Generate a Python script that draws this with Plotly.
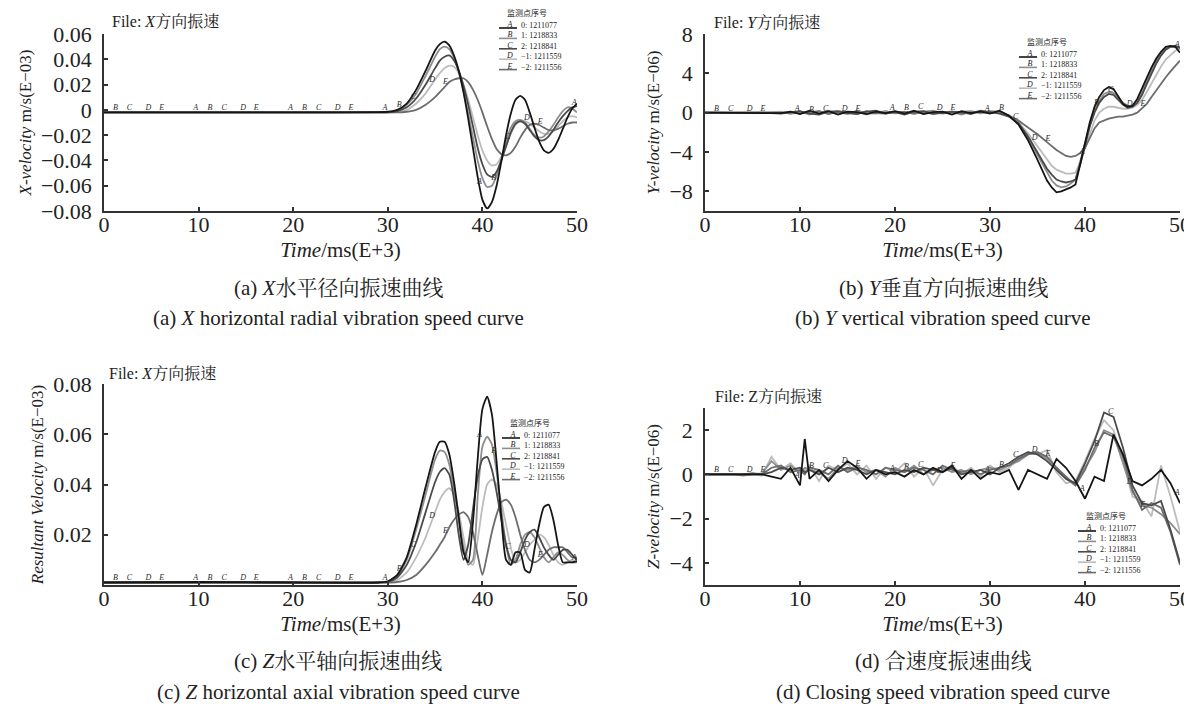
import numpy as np
import plotly.graph_objects as go

W, H = 1192, 706

# ---------------- data ----------------
series_letters = ["A", "B", "C", "D", "E"]
series_ids = ["0: 1211077", "1: 1218833", "2: 1218841", "\u22121: 1211559", "\u22122: 1211556"]

# (a) X velocity, m/s (E-03)
t_a = [0, 10, 20, 29, 30, 31, 32, 33, 34, 35, 35.5, 36, 36.5, 37, 37.5, 38, 38.5, 39, 39.5, 40,
       40.5, 41, 41.5, 42, 42.5, 43, 43.5, 44, 44.5, 45, 45.5, 46, 46.5, 47, 47.5, 48, 48.5, 49, 49.5, 50]
xa_A = [-0.002, -0.002, -0.002, -0.0018, -0.0015, 0.000, 0.005, 0.016, 0.031, 0.047,
        0.052, 0.054, 0.051, 0.043, 0.031, 0.014, -0.007, -0.030, -0.053, -0.071, -0.078, -0.073, -0.060,
        -0.041, -0.020, -0.003, 0.008, 0.011, 0.008, -0.002, -0.014, -0.025, -0.032, -0.034, -0.031,
        -0.024, -0.015, -0.006, 0.001, 0.005]
xa_B = [-0.002, -0.002, -0.002, -0.002, -0.0018, -0.0005, 0.004, 0.013, 0.027, 0.042,
        0.048, 0.050, 0.048, 0.041, 0.030, 0.015, -0.003, -0.022, -0.040, -0.054, -0.061, -0.060, -0.052,
        -0.039, -0.025, -0.014, -0.009, -0.008, -0.010, -0.015, -0.020, -0.022, -0.021, -0.017, -0.012,
        -0.006, -0.001, 0.002, 0.001, -0.002]
xa_C = [-0.002, -0.002, -0.002, -0.002, -0.002, -0.001, 0.002, 0.009, 0.020, 0.033,
        0.039, 0.042, 0.043, 0.039, 0.031, 0.019, 0.004, -0.013, -0.030, -0.043, -0.051, -0.053, -0.049,
        -0.040, -0.029, -0.018, -0.011, -0.009, -0.011, -0.016, -0.021, -0.024, -0.024, -0.021, -0.016,
        -0.010, -0.005, -0.001, 0.002, 0.003]
xa_D = [-0.002, -0.002, -0.002, -0.002, -0.002, -0.0015, 0.000, 0.005, 0.013, 0.024,
        0.029, 0.033, 0.035, 0.034, 0.029, 0.020, 0.008, -0.006, -0.020, -0.032, -0.040, -0.044, -0.043,
        -0.037, -0.028, -0.019, -0.012, -0.009, -0.009, -0.011, -0.014, -0.017, -0.019, -0.019, -0.017,
        -0.013, -0.009, -0.006, -0.005, -0.006]
xa_E = [-0.002, -0.002, -0.002, -0.002, -0.002, -0.002, -0.0015, 0.000, 0.004, 0.010,
        0.014, 0.018, 0.022, 0.024, 0.025, 0.025, 0.022, 0.016, 0.008, -0.002, -0.013, -0.023, -0.031,
        -0.035, -0.036, -0.034, -0.029, -0.022, -0.016, -0.012, -0.011, -0.012, -0.014, -0.016, -0.016,
        -0.015, -0.013, -0.011, -0.010, -0.010]

# (b) Y velocity, m/s (E-06)
t_b = [0, 2, 4, 6, 8, 9, 10, 11, 12, 13, 14, 15, 16, 17, 18, 19, 20, 21, 22, 23, 24, 25, 26, 27, 28,
       29, 30, 31, 32, 33, 34, 35,
       36, 36.5, 37, 37.5, 38, 38.5, 39, 39.5, 40, 40.5, 41, 41.5, 42, 42.5, 43, 43.5, 44, 44.5, 45,
       45.5, 46, 46.5, 47, 47.5, 48, 48.5, 49, 49.5, 50]
yb_A = [0, 0, 0, 0, -0.05, 0.1, -0.15, 0.2, -0.1, 0.15, -0.2, 0.1, 0.05, -0.15, 0.1, -0.05, 0.15, -0.1,
        0.2, -0.15, 0.05, 0.1, -0.2, 0.15, -0.05, 0.1, -0.1, 0.2, -0.3, -1.2, -2.8, -4.8,
        -6.9, -7.6, -8.1, -8.0, -7.8, -7.6, -7.3, -5.2, -3.2, -1.0, 0.6, 1.6, 2.3, 2.6, 2.4, 1.6, 0.9,
        0.6, 0.7, 1.4, 2.5, 3.6, 4.6, 5.5, 6.2, 6.7, 6.8, 6.7, 6.1]
yb_B = [0, 0, 0, 0, 0.05, -0.1, 0.1, -0.2, 0.15, -0.1, 0.05, -0.15, 0.2, -0.05, -0.1, 0.15, -0.05, 0.1,
        -0.15, 0.1, 0.2, -0.1, 0.05, -0.2, 0.1, -0.05, 0.15, 0.1, -0.3, -1.0, -2.5, -4.3,
        -6.1, -6.9, -7.4, -7.6, -7.5, -7.2, -6.8, -5.0, -3.3, -1.3, 0.2, 1.2, 1.9, 2.1, 2.0, 1.5, 1.0,
        0.7, 0.7, 1.2, 2.1, 3.2, 4.3, 5.3, 6.0, 6.5, 6.7, 6.7, 6.5]
yb_C = [0, 0, 0, 0, -0.1, 0.05, 0.15, -0.1, -0.2, 0.1, 0.15, -0.05, -0.15, 0.1, 0.2, -0.1, 0.05, -0.2,
        0.1, 0.15, -0.1, -0.05, 0.1, 0.05, -0.15, 0.2, 0.05, -0.1, -0.4, -1.1, -2.4, -4.0,
        -5.7, -6.3, -6.8, -7.0, -7.1, -7.0, -6.8, -5.3, -3.4, -1.4, 0.0, 1.0, 1.6, 1.9, 1.8, 1.3, 0.8,
        0.5, 0.6, 1.0, 1.8, 2.9, 4.0, 5.0, 5.8, 6.4, 6.7, 6.8, 6.6]
yb_D = [0, 0, 0, 0, 0.1, -0.15, 0.05, 0.1, -0.1, 0.2, -0.15, 0.05, 0.1, -0.2, 0.05, 0.15, -0.1, 0.05,
        0.1, -0.1, 0.15, 0.05, -0.15, 0.1, 0.2, -0.1, 0.1, 0.05, -0.4, -1.0, -2.1, -3.4,
        -4.8, -5.4, -5.8, -6.0, -6.2, -6.2, -6.1, -5.0, -3.6, -2.0, -0.8, 0.0, 0.4, 0.6, 0.6, 0.5, 0.4,
        0.4, 0.5, 0.8, 1.3, 2.1, 3.0, 3.9, 4.7, 5.4, 5.9, 6.3, 6.5]
yb_E = [0, 0, 0, 0, -0.05, 0.1, -0.1, 0.05, 0.15, -0.15, 0.1, 0.05, -0.1, 0.15, -0.05, -0.1, 0.1, 0.05,
        -0.05, 0.1, -0.15, 0.05, 0.1, -0.1, 0.05, 0.15, -0.05, 0.1, -0.3, -0.8, -1.5, -2.2,
        -3.0, -3.4, -3.8, -4.1, -4.4, -4.5, -4.4, -4.1, -3.6, -2.6, -1.6, -1.0, -0.8, -0.6, -0.5, -0.4,
        -0.4, -0.3, -0.2, 0.0, 0.4, 0.9, 1.6, 2.3, 2.9, 3.6, 4.2, 4.8, 5.3]

# (c) resultant velocity, m/s (E-03)
t_c = [0, 10, 20, 29, 30, 31, 32, 33, 34, 35, 35.5, 36, 36.5, 37, 37.5, 38, 38.5, 39, 39.5, 40,
       40.5, 41, 41.5, 42, 42.5, 43, 43.5, 44, 44.5, 45, 45.5, 46, 46.5, 47, 47.5, 48, 48.5, 49, 49.5, 50]
rc_A = [0.001, 0.0012, 0.001, 0.001, 0.0015, 0.004, 0.011, 0.024, 0.039, 0.053,
        0.057, 0.057, 0.052, 0.041, 0.027, 0.013, 0.009, 0.025, 0.050, 0.070, 0.075, 0.068, 0.049,
        0.027, 0.010, 0.008, 0.013, 0.013, 0.006, 0.005, 0.014, 0.024, 0.031, 0.032, 0.026, 0.016,
        0.009, 0.009, 0.009, 0.0095]
rc_B = [0.001, 0.001, 0.001, 0.001, 0.0013, 0.0035, 0.010, 0.022, 0.036, 0.050,
        0.0535, 0.053, 0.048, 0.038, 0.026, 0.015, 0.008, 0.010, 0.035, 0.055, 0.059, 0.056, 0.045,
        0.030, 0.016, 0.008, 0.010, 0.016, 0.020, 0.021, 0.019, 0.015, 0.011, 0.009, 0.011, 0.013,
        0.012, 0.010, 0.009, 0.009]
rc_C = [0.001, 0.001, 0.001, 0.001, 0.0012, 0.003, 0.008, 0.017, 0.029, 0.041,
        0.045, 0.0465, 0.044, 0.034, 0.020, 0.010, 0.016, 0.030, 0.043, 0.050, 0.051, 0.046, 0.037,
        0.026, 0.016, 0.010, 0.009, 0.013, 0.018, 0.021, 0.022, 0.019, 0.015, 0.012, 0.010, 0.012,
        0.014, 0.014, 0.012, 0.010]
rc_D = [0.001, 0.001, 0.001, 0.001, 0.0012, 0.002, 0.005, 0.011, 0.019, 0.029,
        0.034, 0.037, 0.0385, 0.036, 0.029, 0.019, 0.010, 0.008, 0.018, 0.031, 0.040, 0.042, 0.040,
        0.033, 0.024, 0.015, 0.009, 0.010, 0.013, 0.016, 0.018, 0.020, 0.019, 0.016, 0.012, 0.009,
        0.008, 0.009, 0.010, 0.009]
rc_E = [0.001, 0.001, 0.001, 0.001, 0.001, 0.0012, 0.002, 0.004, 0.008, 0.013,
        0.016, 0.019, 0.023, 0.026, 0.028, 0.029, 0.027, 0.021, 0.012, 0.004, 0.012, 0.021, 0.028,
        0.033, 0.034, 0.032, 0.027, 0.020, 0.014, 0.010, 0.009, 0.010, 0.012, 0.014, 0.015, 0.015,
        0.015, 0.013, 0.011, 0.011]

# (d) Z velocity, m/s (E-06)
t_d = [0, 1, 2, 3, 4, 5, 6, 7, 8, 9, 10, 10.5, 11, 12, 13, 14, 15, 16, 17, 18, 19, 20, 21, 22, 23,
       24, 25, 26, 27, 28, 29, 30, 31, 32, 33, 34, 35, 36, 37, 38, 39, 40, 41, 42, 43, 44, 45, 46,
       47, 48, 49, 50]
zd_A = [0, 0, 0, 0, 0, 0, 0, -0.1, -0.2, 0.3, -0.5, 1.6, -0.2, 0.2, -0.3, 0.2, 0.6, 0.3, -0.2, 0.2,
        0.0, 0.1, -0.1, 0.2, 0.0, 0.3, 0.1, 0.4, -0.2, 0.2, -0.2, 0.1, 0.0, 0.2, -0.7, 0.2, 0.0, -0.2,
        0.7, 0.3, -0.3, -1.1, -0.1, -0.3, 1.8, 0.9, -0.3, -0.5, -0.2, 0.2, -0.4, -1.3]
zd_B = [0, 0, 0, 0, -0.05, 0, 0.05, 0.6, 0.2, 0.4, 0.1, 0.3, 0.2, 0.1, -0.2, 0.3, 0.2, 0.4, 0.1, 0.2,
        -0.1, 0.3, 0.1, 0.4, 0.0, 0.2, 0.3, 0.1, 0.2, 0.0, 0.2, 0.3, 0.2, 0.4, 0.6, 0.9, 1.0, 0.7, 0.3,
        -0.2, -0.5, 0.3, 1.0, 2.0, 1.8, 0.5, -0.8, -1.4, -1.5, -1.8, -2.2, -2.7]
zd_C = [0, 0, 0, 0, 0, 0, 0, 0.1, 0.3, 0.2, 0.3, 0.1, 0.2, 0.0, 0.3, 0.1, 0.3, 0.2, 0.0, 0.2, 0.1, 0.0,
        0.2, 0.1, 0.3, 0.2, 0.1, 0.3, 0.0, 0.1, 0.2, 0.0, 0.3, 0.5, 0.8, 1.0, 0.9, 0.6, 0.2, -0.2, -0.4,
        0.5, 1.5, 2.8, 2.6, 1.2, -0.5, -1.3, -1.4, -1.2, -2.5, -4.0]
zd_D = [0, 0, 0, 0, 0, 0, -0.05, 0.8, 0.2, 0.5, 0.0, 0.2, 0.4, -0.3, 0.4, 0.2, 0.5, 0.0, 0.4, -0.2, 0.3,
        0.1, 0.5, -0.1, 0.3, -0.5, 0.2, 0.4, 0.0, 0.3, -0.1, 0.4, 0.1, 0.3, 0.7, 1.0, 0.9, 1.1, 0.1, -0.4,
        -0.3, 0.6, 1.6, 2.45, 2.0, 0.6, -1.0, -1.2, -1.9, 0.4, -1.0, -2.6]
zd_E = [0, 0, 0, 0, 0, 0.05, 0, 0.3, 0.4, 0.1, 0.2, 0.0, 0.3, 0.2, 0.0, 0.4, 0.1, 0.3, 0.2, 0.0, 0.3,
        0.2, 0.1, 0.3, 0.2, 0.0, 0.4, 0.2, 0.1, 0.2, 0.0, 0.2, 0.3, 0.4, 0.7, 0.9, 1.0, 0.8, 0.3, -0.1,
        -0.5, 0.2, 1.2, 1.9, 1.7, 0.8, -0.7, -1.6, -1.3, -1.5, -2.6, -4.1]

# ---------------- style ----------------
SERIF = "Liberation Serif, 'Noto Serif CJK SC', 'Noto Sans CJK SC', serif"
CJK = "'Noto Sans CJK SC', 'Liberation Serif', serif"
colors = ["#151515", "#8e8e8e", "#4a4a4a", "#bcbcbc", "#6c6c6c"]
label_offsets = [9.7, 1.2, 2.7, 4.7, 6.1]
LEG_FONT = 8
LEG_STEP = 1.3 * LEG_FONT  # plotly line spacing for multi-line annotations


def px(x):
    return x / W


def py(y):
    return 1 - y / H


panels = [
    dict(t=t_a, ys=[xa_A, xa_B, xa_C, xa_D, xa_E], shape="spline", ax="", yr=[-0.08, 0.06], dt=0.02,
         tv=None, dx=[96, 569], dy=[203, 26], ytitle="<i>X-velocity</i> m/s(E\u221203)",
         file="File: <i>X</i>方向振速", fpos=(102, 13), leg=(491, 17),
         cap1="(a) <i>X</i>水平径向振速曲线", cap2="(a) <i>X</i> horizontal radial vibration speed curve",
         cx=330, cy=(280, 310)),
    dict(t=t_b, ys=[yb_A, yb_B, yb_C, yb_D, yb_E], shape="linear", ax="2", yr=[-10, 8], dt=4,
         tv=None, dx=[697, 1172], dy=[203, 26], ytitle="<i>Y-velocity</i> m/s(E\u221206)",
         file="File: <i>Y</i>方向振速", fpos=(704, 15), leg=(1011, 46),
         cap1="(b) <i>Y</i>垂直方向振速曲线", cap2="(b) <i>Y</i> vertical vibration speed curve",
         cx=935, cy=(280, 310)),
    dict(t=t_c, ys=[rc_A, rc_B, rc_C, rc_D, rc_E], shape="spline", ax="3", yr=[0, 0.08], dt=0.02,
         tv=[0.02, 0.04, 0.06, 0.08], dx=[96, 569], dy=[577, 376],
         ytitle="<i>Resultant Velocity</i> m/s(E\u221203)",
         file="File: <i>X</i>方向振速", fpos=(99, 365), leg=(494, 427),
         cap1="(c) <i>Z</i>水平轴向振速曲线", cap2="(c) <i>Z</i> horizontal axial vibration speed curve",
         cx=330, cy=(653, 684)),
    dict(t=t_d, ys=[zd_A, zd_B, zd_C, zd_D, zd_E], shape="linear", ax="4", yr=[-5, 3], dt=2,
         tv=None, dx=[697, 1172], dy=[577, 400], ytitle="<i>Z-velocity</i> m/s(E\u221206)",
         file="File: Z方向振速", fpos=(705, 388), leg=(1070, 520),
         cap1="(d) 合速度振速曲线", cap2="(d) Closing speed vibration speed curve",
         cx=935, cy=(653, 684)),
]

fig = go.Figure()
annotations = []
shapes = []

for p in panels:
    xa, ya = "x" + p["ax"], "y" + p["ax"]
    t = np.array(p["t"], dtype=float)
    # draw lighter series first so the darkest lies on top
    for i in [3, 1, 4, 2, 0]:
        v = np.array(p["ys"][i], dtype=float)
        line = dict(color=colors[i], width=1.8, shape=p["shape"])
        if p["shape"] == "spline":
            line["smoothing"] = 0.6
        fig.add_trace(go.Scatter(x=t, y=v, mode="lines", line=line, xaxis=xa, yaxis=ya,
                                 name=f"{series_letters[i]}  {series_ids[i]}", showlegend=False,
                                 hoverinfo="x+y+name"))
    # small letters riding on the curves
    for i in range(5):
        v = np.array(p["ys"][i], dtype=float)
        lt = [label_offsets[i] + 10 * m for m in range(5) if label_offsets[i] + 10 * m <= 50]
        lv = np.interp(lt, t, v)
        fig.add_trace(go.Scatter(x=lt, y=lv, mode="text", text=["<i>" + series_letters[i] + "</i>"] * len(lt),
                                 textposition="top center",
                                 textfont=dict(family=SERIF, size=8, color="#2a2a2a"),
                                 xaxis=xa, yaxis=ya, showlegend=False, hoverinfo="skip"))

    # axes
    xd = [px(p["dx"][0]), px(p["dx"][1])]
    yd = [py(p["dy"][0]), py(p["dy"][1])]
    xkey = "xaxis" + p["ax"]
    ykey = "yaxis" + p["ax"]
    xaxis = dict(domain=xd, anchor=ya, range=[0, 50], tick0=0, dtick=10, showline=True,
                 linecolor="#333333", linewidth=1.5, ticks="inside", ticklen=4, tickcolor="#333333",
                 tickwidth=1.5, showgrid=False, zeroline=False, ticklabelstandoff=-7,
                 tickfont=dict(family=SERIF, size=22, color="#222222"),
                 title=dict(text="<i>Time</i>/ms(E+3)", font=dict(family=SERIF, size=21, color="#222222"),
                            standoff=6),
                 automargin=False)
    yaxis = dict(domain=yd, anchor=xa, range=p["yr"], showline=True, linecolor="#333333",
                 linewidth=1.5, ticks="inside", ticklen=4, tickcolor="#333333", tickwidth=1.5,
                 showgrid=False, zeroline=False, ticklabelstandoff=6,
                 tickfont=dict(family=SERIF, size=22, color="#222222"),
                 title=dict(text=p["ytitle"], font=dict(family=SERIF, size=17, color="#222222"),
                            standoff=5),
                 automargin=False)
    if p["tv"] is not None:
        yaxis["tickvals"] = p["tv"]
    else:
        yaxis["dtick"] = p["dt"]
        yaxis["tick0"] = 0
    fig.update_layout(**{xkey: xaxis, ykey: yaxis})

    # file label
    annotations.append(dict(text=p["file"], x=px(p["fpos"][0]), y=py(p["fpos"][1]), xref="paper",
                            yref="paper", xanchor="left", yanchor="middle", showarrow=False,
                            font=dict(family=SERIF, size=16, color="#222222")))
    # captions
    annotations.append(dict(text=p["cap1"], x=px(p["cx"]), y=py(p["cy"][0]), xref="paper", yref="paper",
                            xanchor="center", yanchor="middle", showarrow=False,
                            font=dict(family=SERIF, size=21, color="#222222")))
    annotations.append(dict(text=p["cap2"], x=px(p["cx"]), y=py(p["cy"][1]), xref="paper", yref="paper",
                            xanchor="center", yanchor="middle", showarrow=False,
                            font=dict(family=SERIF, size=21, color="#222222")))
    # hand-drawn legend: title, letters over short lines, monitor ids
    lx, ly = p["leg"]
    top = ly - LEG_STEP / 2
    annotations.append(dict(text="监测点序号", x=px(lx + 28), y=py(top - 1), xref="paper", yref="paper",
                            xanchor="center", yanchor="bottom", showarrow=False, borderpad=0,
                            font=dict(family=CJK, size=8, color="#222222")))
    annotations.append(dict(text="<br>".join(series_ids), x=px(lx + 21), y=py(top), xref="paper",
                            yref="paper", xanchor="left", yanchor="top", align="left", showarrow=False,
                            borderpad=0, font=dict(family=SERIF, size=LEG_FONT, color="#222222")))
    annotations.append(dict(text="<br>".join("<i>" + s + "</i>" for s in series_letters),
                            x=px(lx + 10), y=py(top - 1), xref="paper", yref="paper", xanchor="center",
                            yanchor="top", align="center", showarrow=False, borderpad=0,
                            font=dict(family=SERIF, size=LEG_FONT, color="#222222")))
    for i in range(5):
        ry = ly + i * LEG_STEP + 3
        shapes.append(dict(type="line", xref="paper", yref="paper", x0=px(lx), x1=px(lx + 18),
                           y0=py(ry), y1=py(ry), line=dict(color=colors[i], width=1.6)))

fig.update_layout(width=W, height=H, margin=dict(l=0, r=0, t=0, b=0), paper_bgcolor="white",
                  plot_bgcolor="white", showlegend=False, annotations=annotations, shapes=shapes,
                  font=dict(family=SERIF, color="#222222"))

fig.write_html("out.html")
